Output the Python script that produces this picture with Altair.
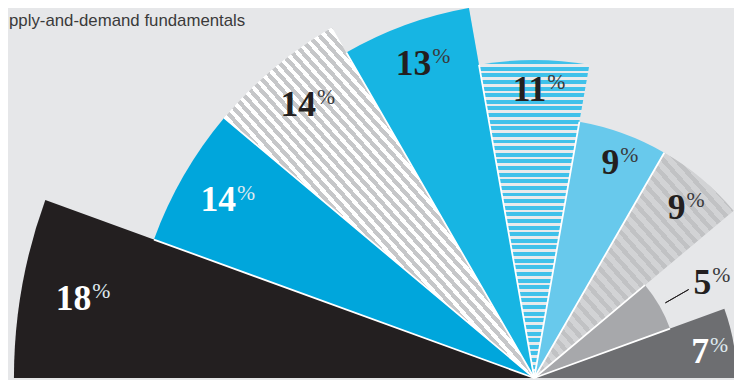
import math
import altair as alt
import pandas as pd

# ---- data -------------------------------------------------------------
keys = ["A", "B", "C", "D", "E", "F", "G", "H", "I"]
values = [18, 14, 14, 13, 11, 9, 9, 5, 7]
title_text = "pply-and-demand fundamentals"

# ---- styles -----------------------------------------------------------
base_colors = ["#231f20", "#00a6dc", "#ffffff", "#17b5e3", "#e9eaec",
               "#68c9ec", "#d1d2d4", "#a7a8ab", "#6d6e71"]
dark_pred = "datum.key == 'A' || datum.key == 'B' || datum.key == 'I'"
BG = "#e6e7e9"
INK = "#231f20"
CX, CY = 532, 372

df = pd.DataFrame({"key": keys, "v": values, "idx": list(range(len(keys)))})

theta_scale = alt.Scale(domain=[0, len(keys)], range=[-math.pi / 2, math.pi / 2])
r_scale = alt.Scale(type="linear", domain=[0, 18], range=[0, 526])


def stripes(c1, c2, n, frac):
    stops = []
    for k in range(n):
        a = k / n
        b = (k + frac) / n
        c = (k + 1) / n
        stops += [
            alt.GradientStop(color=c1, offset=round(a, 5)),
            alt.GradientStop(color=c1, offset=round(b, 5)),
            alt.GradientStop(color=c2, offset=round(b, 5)),
            alt.GradientStop(color=c2, offset=round(c, 5)),
        ]
    return stops


base = alt.Chart(df).transform_calculate(t0="datum.idx", t1="datum.idx + 1")

pos = dict(x=alt.value(CX), y=alt.value(CY))

arcs = base.mark_arc().encode(
    **pos,
    theta=alt.Theta("t0:Q", scale=theta_scale, stack=False),
    theta2="t1:Q",
    radius=alt.Radius("v:Q", scale=r_scale),
    color=alt.Color("key:N", scale=alt.Scale(domain=keys, range=base_colors), legend=None),
)


def overlay(key, grad):
    return base.transform_filter(f"datum.key == '{key}'").mark_arc(fill=grad).encode(
        **pos,
        theta=alt.Theta("t0:Q", scale=theta_scale, stack=False),
        theta2="t1:Q",
        radius=alt.Radius("v:Q", scale=r_scale),
    )


ov_c = overlay("C", alt.LinearGradient(gradient="linear",
                                        stops=stripes("#c6c7c9", "#ffffff", 58, 0.52),
                                        x1=0, y1=1, x2=1, y2=0))
ov_e = overlay("E", alt.LinearGradient(gradient="linear",
                                        stops=stripes("#40c1ea", "#e9eaec", 48, 0.6),
                                        x1=0, y1=0, x2=0, y2=1))
ov_g = overlay("G", alt.LinearGradient(gradient="linear",
                                        stops=stripes("#c1c2c4", "#d2d3d5", 30, 0.45),
                                        x1=0, y1=1, x2=1, y2=0))

seps = (
    base.transform_window(nv="lead(v)", sort=[alt.SortField("idx")])
    .transform_filter("datum.nv != null")
    .transform_calculate(sr="min(datum.v, datum.nv)", te="datum.idx + 1")
    .mark_arc(stroke="white", strokeWidth=1.8, fillOpacity=0, strokeJoin="bevel")
    .encode(
        **pos,
        theta=alt.Theta("te:Q", scale=theta_scale, stack=False),
        theta2="te:Q",
        radius=alt.Radius("sr:Q", scale=r_scale),
    )
)

leader = (
    base.transform_filter("datum.v < 6")
    .transform_calculate(lt="datum.idx + 0.51", li="datum.v + 0.23", lo="datum.v + 1.16")
    .mark_arc(stroke=INK, strokeWidth=1, fillOpacity=0)
    .encode(
        **pos,
        theta=alt.Theta("lt:Q", scale=theta_scale, stack=False),
        theta2="lt:Q",
        radius=alt.Radius("lo:Q", scale=r_scale),
        radius2="li:Q",
    )
)

lab = base.transform_calculate(
    tl="datum.idx + 0.5 + 0.008 * datum.idx",
    lr=("datum.v < 6 ? datum.v + 1.88 : "
        "0.8956 * datum.v - 0.25 + 0.38 * pow(sin(PI * (datum.idx + 0.5) / 9), 12)"),
)

texts = []
for cond, dx in [("datum.v >= 10", 9), ("datum.v < 10", 3)]:
    sub = lab.transform_filter(cond)
    texts.append(
        sub.mark_text(font="Liberation Serif", fontWeight="bold", fontSize=36,
                      align="right", baseline="alphabetic", dx=dx, dy=12).encode(
            **pos,
            theta=alt.Theta("tl:Q", scale=theta_scale, stack=False),
            radius=alt.Radius("lr:Q", scale=r_scale),
            text="v:Q",
            color=alt.condition(dark_pred, alt.value("#ffffff"), alt.value(INK)),
        )
    )
    texts.append(
        sub.mark_text(font="Liberation Serif", fontSize=22,
                      align="left", baseline="alphabetic", dx=dx + 1, dy=0).encode(
            **pos,
            theta=alt.Theta("tl:Q", scale=theta_scale, stack=False),
            radius=alt.Radius("lr:Q", scale=r_scale),
            text=alt.value("%"),
            color=alt.condition(dark_pred, alt.value("#dfe9ef"), alt.value("#3a3a3c")),
        )
    )

title = alt.Chart(pd.DataFrame({"t": [title_text]})).mark_text(
    align="left", baseline="alphabetic", font="Liberation Sans", fontSize=17, color="#3a3a3a"
).encode(x=alt.value(1), y=alt.value(16), text="t:N")

chart = alt.layer(arcs, ov_c, ov_e, ov_g, seps, leader, *texts, title).properties(
    width=734, height=372,
    autosize=alt.AutoSizeParams(type="none"),
    padding=0,
    background=BG,
).configure_view(strokeWidth=0)

chart.save("out.html", embed_options={"renderer": "svg", "actions": False})
